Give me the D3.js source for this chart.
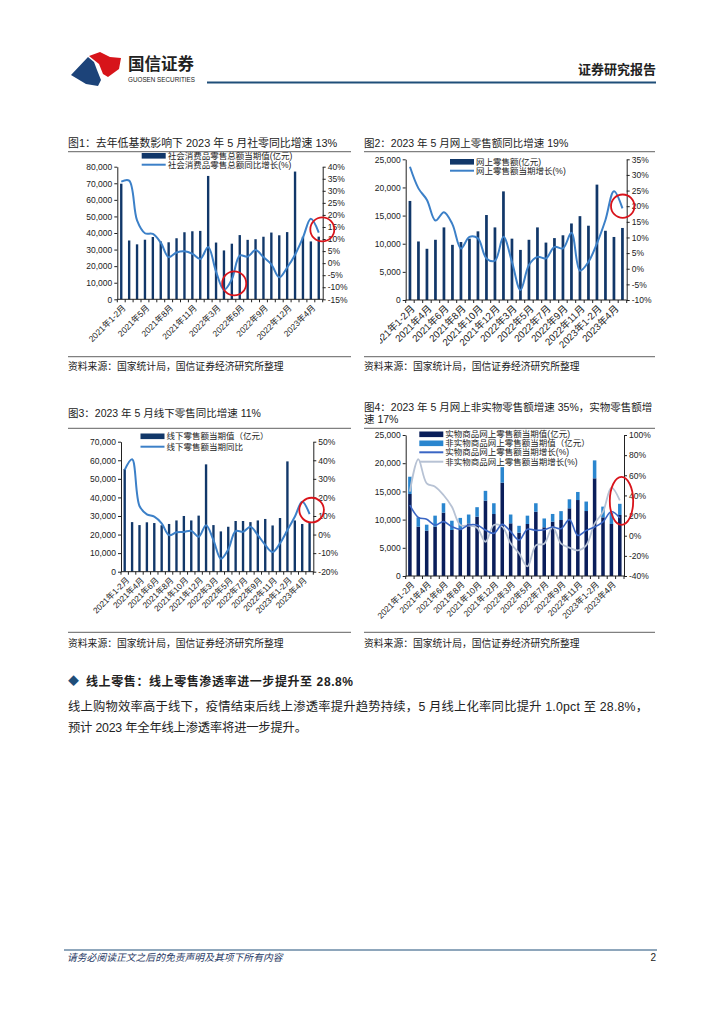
<!DOCTYPE html>
<html><head><meta charset="utf-8">
<script src="https://cdn.jsdelivr.net/npm/d3@7"></script>
<style>
body{margin:0;background:#fff}
svg{display:block}
text{font-family:"Liberation Sans","Noto Sans CJK SC",sans-serif;fill:#222}
</style>
</head><body>
<svg id="page" width="724" height="1024"></svg>
<script>
// ---------------- DATA ----------------
const months = ["2021年1-2月","2021年3月","2021年4月","2021年5月","2021年6月","2021年7月","2021年8月","2021年9月","2021年10月","2021年11月","2021年12月","2022年1-2月","2022年3月","2022年4月","2022年5月","2022年6月","2022年7月","2022年8月","2022年9月","2022年10月","2022年11月","2022年12月","2023年1-2月","2023年3月","2023年4月","2023年5月"];

// Fig 1: total retail sales of consumer goods
const c1Total = [69737,35484,33153,35945,37586,34925,34395,36833,40454,41043,41269,74426,34233,29483,33547,38742,35870,36258,37745,40271,38615,40542,77067,37715,34910,37803];
const c1Yoy = [33.8,34.2,17.7,12.4,12.1,8.5,2.5,4.4,4.9,3.9,1.7,6.7,-3.5,-11.1,-6.7,3.1,2.7,5.4,2.5,-0.5,-5.9,-1.8,3.5,10.6,18.4,12.7];
const c1XLabels = ["2021年1-2月","2021年5月","2021年8月","2021年11月","2022年3月","2022年6月","2022年9月","2022年12月","2023年4月"];
const c1LeftTicks = [0,10000,20000,30000,40000,50000,60000,70000,80000];
const c1RightTicks = [-15,-10,-5,0,5,10,15,20,25,30,35,40];

// Fig 2: online retail sales
const c2Online = [17600,10400,9100,10700,12900,9800,10300,10900,12200,15100,12900,19300,10900,8900,10700,12900,10200,11000,11500,13600,14900,13200,20500,12300,11200,12800];
const c2Yoy = [32.6,25.7,22,15.4,18.1,14.2,6.5,10.2,9.7,3.3,2.6,10.2,2.2,-6.8,1.2,3.8,3.3,7,6.5,11.5,-0.6,2.2,8.1,15.6,24.8,19.3];
const c2XLabels = ["2021年1-2月","2021年4月","2021年6月","2021年8月","2021年10月","2021年12月","2022年3月","2022年5月","2022年7月","2022年9月","2022年11月","2023年1-2月","2023年4月"];
const c2LeftTicks = [0,5000,10000,15000,20000,25000];
const c2RightTicks = [-10,-5,0,5,10,15,20,25,30,35];

// Fig 3: offline retail sales
const c3Offline = [55300,26700,25100,26600,26200,25000,25700,27600,30000,27600,30200,57800,25100,21700,24200,27300,27300,26700,27600,28400,24900,28900,59400,27600,25700,26700];
const c3Yoy = [34.8,40.5,15.4,10.9,9.6,6,-0.3,1.2,1.4,2,-1.2,5,-3,-13,-8,1.9,1.5,4.2,-0.3,-5.6,-9.4,-4.7,2.4,9.6,17.7,11];
const c3XLabels = c2XLabels;
const c3LeftTicks = [0,10000,20000,30000,40000,50000,60000,70000];
const c3RightTicks = [-20,-10,0,10,20,30,40,50];

// Fig 4: physical / non-physical online retail
const c4Physical = [14540,8750,8040,8750,11230,8160,8270,9300,10520,13360,10990,16550,9340,7680,9220,11400,8630,9630,9930,12000,13470,11520,17320,10400,9220,10820];
const c4NonPhysical = [3060,1650,1060,1950,1670,1640,2030,1600,1680,1740,1910,2750,1560,1220,1480,1500,1570,1370,1570,1600,1430,1680,3180,1900,1980,1980];
const c4PhysYoy = [30.5,18.3,16.3,10.6,14,9,6.3,10.6,10.6,5.7,2.4,11.3,4,-4.3,6.5,5.3,6,8.6,7,16,0.3,5.3,8.6,13.7,24,17.5];
const c4NonPhysYoy = [43.7,75.9,52,48.7,40.4,28.8,10.6,10,8,-6,10.6,9,-7.6,-17.5,-30.5,-9.6,-7.9,8.6,-7.9,-11.9,-14.6,-9.6,12,23.6,47.8,35.2];
const c4XLabels = c2XLabels;
const c4LeftTicks = [0,5000,10000,15000,20000,25000];
const c4RightTicks = [-40,-20,0,20,40,60,80,100];

// highlighted points (category index, right-axis value)
const c1Marks = [{i:14.3, v:-8.4}, {i:25.45, v:14}];
const c2Marks = [{i:25.03, v:20}];
const c3Marks = [{i:25.27, v:13.2}];
const c4Marks = [{i:25.2, v:34.5}];

// ---------------- DRAW ----------------
const svg = d3.select("#page");
const NAVY = "#113769", LINEBLUE = "#3c80c8", RED = "#d9141b";

// Header
const hdr = svg.append("g");
hdr.append("path").attr("d","M71,75 L88,57 L94,62 L97,70 L101,80 L98,86 L86,84 Z").attr("fill","#1c4379");
hdr.append("path").attr("d","M89,56 L100,52 L110,57 L121,58 L119,69 L108,77 L103,74 L99,64 Z").attr("fill","#d7141a");
hdr.append("text").attr("x",128).attr("y",70).attr("font-size",16.5).attr("font-weight","bold").attr("fill","#333").text("国信证券");
hdr.append("text").attr("x",128).attr("y",82).attr("font-size",6.3).attr("textLength",67).attr("fill","#333").text("GUOSEN SECURITIES");
hdr.append("text").attr("x",656).attr("y",74).attr("text-anchor","end").attr("font-size",13).attr("font-weight","bold").attr("fill","#333").text("证券研究报告");
hdr.append("line").attr("x1",207).attr("x2",656).attr("y1",82.5).attr("y2",82.5).attr("stroke","#1f4e79").attr("stroke-width",2);

function titleBlock(x, w, lines, y0, lineY, srcLineY, srcY, fs) {
  const g = svg.append("g");
  lines.forEach((t,k)=> g.append("text").attr("x",x).attr("y",y0 + k*12.5).attr("font-size",fs).text(t));
  g.append("line").attr("x1",x).attr("x2",x+w).attr("y1",lineY).attr("y2",lineY).attr("stroke","#808080").attr("stroke-width",1.3);
  g.append("line").attr("x1",x).attr("x2",x+w).attr("y1",srcLineY).attr("y2",srcLineY).attr("stroke","#808080").attr("stroke-width",1.3);
  g.append("text").attr("x",x).attr("y",srcY).attr("font-size",9.8).text("资料来源：国家统计局，国信证券经济研究所整理");
}
titleBlock(68, 283, ["图1：去年低基数影响下 2023 年 5 月社零同比增速 13%"], 146.5, 151.7, 356.7, 370, 10.9);
titleBlock(364, 291, ["图2：2023 年 5 月网上零售额同比增速 19%"], 146.5, 151.7, 356.7, 370, 10.5);
titleBlock(68, 283, ["图3：2023 年 5 月线下零售同比增速 11%"], 416.5, 428.3, 632.3, 647, 10.5);
titleBlock(364, 291, ["图4：2023 年 5 月网上非实物零售额增速 35%，实物零售额增","速 17%"], 410.5, 428.3, 632.3, 647, 10.5);

let clipId = 0;
function drawChart(cfg) {
  const g = svg.append("g");
  const x = d3.scaleBand().domain(months).range([cfg.x0, cfg.x1]).paddingInner(cfg.pad).paddingOuter(cfg.pad/2);
  const yL = d3.scaleLinear().domain(cfg.leftDomain).range([cfg.yBottom, cfg.yTop]);
  const yR = d3.scaleLinear().domain(cfg.rightDomain).range([cfg.yBottom, cfg.yTop]);
  const cx = m => x(m) + x.bandwidth()/2;
  const xi = d3.scaleLinear().domain([0, months.length-1]).range([cx(months[0]), cx(months[months.length-1])]);

  // stacked bars
  const keys = cfg.bars.map((b,k)=>"s"+k);
  const table = months.map((m,i)=>{ const r={month:m}; cfg.bars.forEach((b,k)=> r["s"+k]=b.values[i]); return r; });
  const stacked = d3.stack().keys(keys)(table);
  stacked.forEach((layer,k)=>{
    g.append("g").attr("fill", cfg.bars[k].color).selectAll("rect").data(layer).join("rect")
      .attr("x", d=>x(d.data.month)).attr("width", x.bandwidth())
      .attr("y", d=>yL(d[1])).attr("height", d=>yL(d[0])-yL(d[1]));
  });

  // lines
  cfg.lines.forEach(l=>{
    const line = d3.line().x((d,i)=>cx(months[i])).y(d=>yR(d)).curve(d3.curveCatmullRom.alpha(0.5));
    g.append("path").datum(l.values).attr("d", line).attr("fill","none")
      .attr("stroke", l.color).attr("stroke-width", l.width).attr("stroke-linejoin","round");
  });

  // axes
  const ax = g.append("g").attr("font-size",8.5);
  const la = ax.append("g").attr("transform",`translate(${cfg.x0},0)`)
    .call(d3.axisLeft(yL).tickValues(cfg.leftTicks).tickFormat(d3.format(",")).tickSize(3).tickSizeOuter(0).tickPadding(2));
  const ra = ax.append("g").attr("transform",`translate(${cfg.x1},0)`)
    .call(d3.axisRight(yR).tickValues(cfg.rightTicks).tickFormat(d=>d+"%").tickSize(3).tickSizeOuter(0).tickPadding(2));
  [la,ra].forEach(a=>{
    a.attr("font-family",null);
    a.selectAll("text").attr("font-size",8.5).style("fill","#222");
    a.selectAll("path,line").attr("stroke","#222");
  });
  // bottom axis
  ax.append("line").attr("x1",cfg.x0).attr("x2",cfg.x1).attr("y1",cfg.yBottom).attr("y2",cfg.yBottom).attr("stroke","#222");
  ax.selectAll(".xt").data(d3.range(months.length+1)).join("line").attr("class","xt")
    .attr("x1",k=>cfg.x0 + k*x.step()).attr("x2",k=>cfg.x0 + k*x.step())
    .attr("y1",cfg.yBottom).attr("y2",cfg.yBottom+3).attr("stroke","#222");
  const labG = ax.append("g");
  if (cfg.clipLeft) {
    const id = "clip" + (clipId++);
    svg.append("clipPath").attr("id",id).append("rect").attr("x",cfg.clipLeft).attr("y",cfg.yBottom).attr("width",400).attr("height",80);
    labG.attr("clip-path",`url(#${id})`);
  }
  labG.selectAll(".xl").data(cfg.xLabels).join("text").attr("class","xl")
    .attr("text-anchor","end").attr("font-size",cfg.xfs)
    .attr("transform", m=>`translate(${cx(m)+3},${cfg.yBottom+7}) rotate(-45)`)
    .attr("dy","0.35em").text(m=>m);

  // legend
  const lg = g.append("g");
  cfg.legend.forEach((it,k)=>{
    const yy = cfg.legendY[k];
    if (it.type==="rect") lg.append("rect").attr("x",cfg.legendX).attr("y",yy-2.8).attr("width",24).attr("height",5.6).attr("fill",it.color);
    else lg.append("line").attr("x1",cfg.legendX).attr("x2",cfg.legendX+24).attr("y1",yy).attr("y2",yy).attr("stroke",it.color).attr("stroke-width",2);
    lg.append("text").attr("x",cfg.legendX+26).attr("y",yy).attr("dy","0.35em").attr("font-size",8.5).text(it.label);
  });

  // highlight circles
  cfg.marks.forEach(mk=>{
    g.append("ellipse").attr("cx",xi(mk.i)).attr("cy",yR(mk.v)).attr("rx",cfg.markRx).attr("ry",cfg.markRy)
      .attr("fill","none").attr("stroke",RED).attr("stroke-width",1.8);
  });
}

drawChart({x0:117.3, x1:322.7, yTop:166.7, yBottom:299.3, pad:0.7, xfs:8.5,
  leftDomain:[0,80000], rightDomain:[-15,40], leftTicks:c1LeftTicks, rightTicks:c1RightTicks,
  bars:[{values:c1Total, color:NAVY}], lines:[{values:c1Yoy, color:LINEBLUE, width:2}],
  xLabels:c1XLabels, legendX:141.7, legendY:[155.8,164.7],
  legend:[{type:"rect",color:NAVY,label:"社会消费品零售总额当期值(亿元)"},{type:"line",color:LINEBLUE,label:"社会消费品零售总额同比增长(%)"}],
  marks:c1Marks, markRx:12, markRy:12});

drawChart({x0:405.7, x1:626.7, yTop:159.3, yBottom:300, pad:0.68, xfs:9.8, clipLeft:380,
  leftDomain:[0,25000], rightDomain:[-10,35], leftTicks:c2LeftTicks, rightTicks:c2RightTicks,
  bars:[{values:c2Online, color:NAVY}], lines:[{values:c2Yoy, color:LINEBLUE, width:2}],
  xLabels:c2XLabels, legendX:450, legendY:[161.8,170.7],
  legend:[{type:"rect",color:NAVY,label:"网上零售额(亿元)"},{type:"line",color:LINEBLUE,label:"网上零售额当期增长(%)"}],
  marks:c2Marks, markRx:11.7, markRy:11.7});

drawChart({x0:121, x1:313.3, yTop:441.7, yBottom:571.7, pad:0.68, xfs:8.3,
  leftDomain:[0,70000], rightDomain:[-20,50], leftTicks:c3LeftTicks, rightTicks:c3RightTicks,
  bars:[{values:c3Offline, color:NAVY}], lines:[{values:c3Yoy, color:LINEBLUE, width:2}],
  xLabels:c3XLabels, legendX:140.5, legendY:[436.3,446.7],
  legend:[{type:"rect",color:NAVY,label:"线下零售额当期值（亿元）"},{type:"line",color:LINEBLUE,label:"线下零售额当期同比"}],
  marks:c3Marks, markRx:12.3, markRy:12.3});

drawChart({x0:405.7, x1:624, yTop:435, yBottom:576, pad:0.58, xfs:8.5,
  leftDomain:[0,25000], rightDomain:[-40,100], leftTicks:c4LeftTicks, rightTicks:c4RightTicks,
  bars:[{values:c4Physical, color:"#0a1e5a"},{values:c4NonPhysical, color:"#2a86cf"}],
  lines:[{values:c4NonPhysYoy, color:"#b7c2d4", width:1.8},{values:c4PhysYoy, color:"#3a66c4", width:1.6}],
  xLabels:c4XLabels, legendX:419.3, legendY:[434.3,443.3,452.3,461.7],
  legend:[{type:"rect",color:"#0a1e5a",label:"实物商品网上零售额当期值(亿元)"},{type:"rect",color:"#2a86cf",label:"非实物商品网上零售额当期值（亿元）"},
          {type:"line",color:"#3a66c4",label:"实物商品网上零售额当期增长(%)"},{type:"line",color:"#b7c2d4",label:"非实物商品网上零售额当期增长(%)"}],
  marks:c4Marks, markRx:11.7, markRy:24});

// Section text
const sec = svg.append("g");
sec.append("text").attr("x",68).attr("y",685).attr("font-size",11).style("fill","#1f4e79").text("◆");
sec.append("text").attr("x",86).attr("y",685.5).attr("font-size",12).attr("font-weight","bold").attr("textLength",267).text("线上零售：线上零售渗透率进一步提升至 28.8%");
sec.append("text").attr("x",68).attr("y",710.5).attr("font-size",12.3).attr("textLength",580).text("线上购物效率高于线下，疫情结束后线上渗透率提升趋势持续，5 月线上化率同比提升 1.0pct 至 28.8%，");
sec.append("text").attr("x",68).attr("y",731.5).attr("font-size",12.3).attr("textLength",239).text("预计 2023 年全年线上渗透率将进一步提升。");

// Footer
const ft = svg.append("g");
ft.append("line").attr("x1",64).attr("x2",657).attr("y1",950).attr("y2",950).attr("stroke","#1f4e79").attr("stroke-width",1);
ft.append("text").attr("x",67).attr("y",961).attr("font-size",9.8).attr("font-style","italic").style("fill","#1f3864").text("请务必阅读正文之后的免责声明及其项下所有内容");
ft.append("text").attr("x",656).attr("y",961).attr("text-anchor","end").attr("font-size",10).text("2");
</script>
</body></html>
